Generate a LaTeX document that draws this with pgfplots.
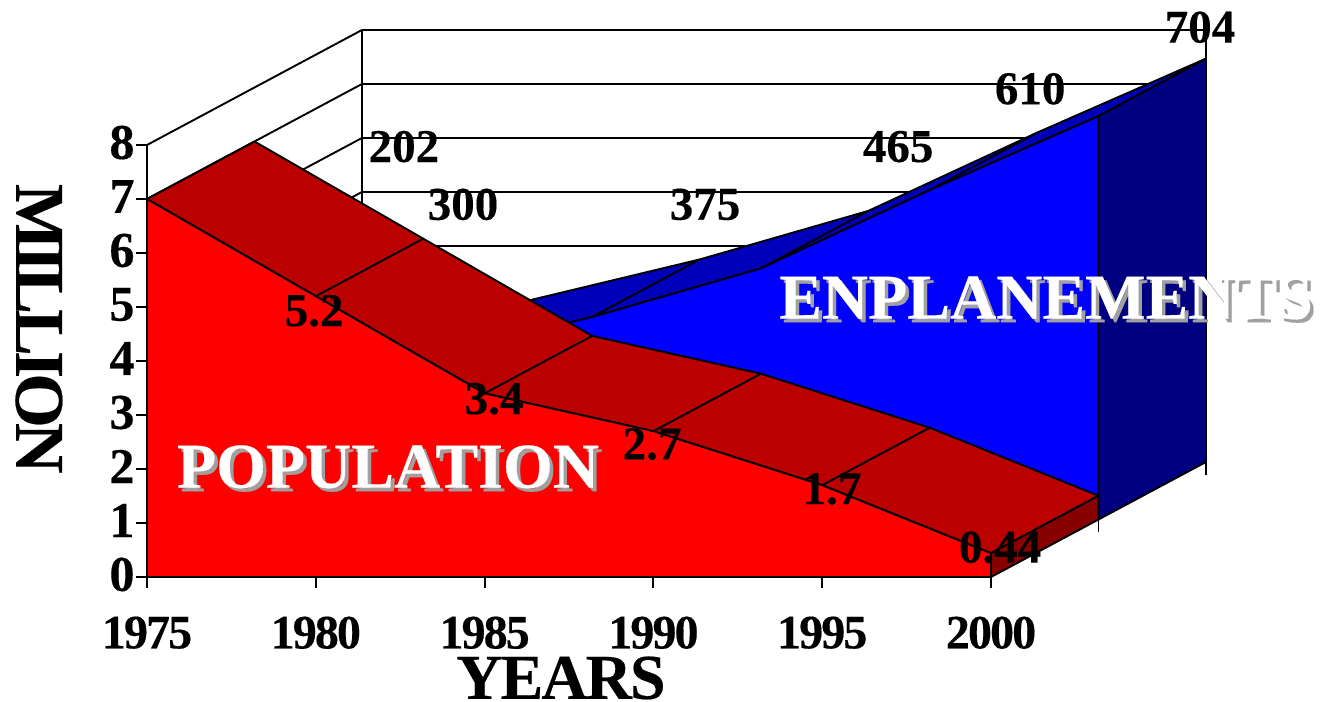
\documentclass[border=0pt]{standalone}
\usepackage{fontspec}
\setmainfont[BoldFeatures={FakeBold=0.3}]{Liberation Serif}
\newfontfamily\tightfont[LetterSpace=-3,BoldFeatures={FakeBold=0.3}]{Liberation Serif}
\newfontfamily\titlefont[LetterSpace=-7,BoldFeatures={FakeBold=0.3}]{Liberation Serif}
\newfontfamily\axisfont[LetterSpace=-4,BoldFeatures={FakeBold=0.3}]{Liberation Serif}
\usepackage{pgfplots}
\pgfplotsset{compat=1.18}
\definecolor{redtop}{HTML}{BB0000}
\definecolor{redside}{HTML}{880000}
\definecolor{bluetop}{HTML}{0000BB}
\definecolor{blueside}{HTML}{000080}
\definecolor{shade}{HTML}{A0A0A0}
\pgfplotsset{table/depth/.style={row sep=\\,
  x expr=\thisrow{yr}+\thisrow{d}*3.184,
  y expr=\thisrow{v}+\thisrow{d}*1.065}}
\newcommand{\seg}[6]{\addplot[black,line width=1.9pt] table[depth]{yr d v\\ #1 #2 #3\\ #4 #5 #6\\};}
\newcommand{\shadowtext}[3]{%
  \node[text=shade,font=\fontsize{#3}{#3}\selectfont\bfseries,xshift=3.5pt,yshift=-3.5pt] at (axis cs:#1) {#2};
  \node[text=white,font=\fontsize{#3}{#3}\selectfont\bfseries] at (axis cs:#1) {#2};}
\newcommand{\vlabel}[2]{\node[font=\fontsize{47}{47}\selectfont\bfseries] at (axis cs:#1) {#2};}
\begin{document}
\begin{tikzpicture}[line join=round]
\useasboundingbox (-147pt,-124pt) rectangle (1174pt,577pt);
\begin{axis}[
  at={(0pt,0pt)},anchor=south west,
  width=844pt,height=432pt,scale only axis,
  xmin=1975,xmax=2000,ymin=0,ymax=8,clip=false,
  axis x line=bottom,axis y line=left,
  axis line style={-,line width=2pt,black},
  tick style={black,line width=1.9pt},
  tick align=outside,
  xtick={1975,1980,1985,1990,1995,2000},
  ytick={0,1,2,3,4,5,6,7,8},
  major tick length=11pt,
  /pgf/number format/assume math mode=true,
  /pgf/number format/1000 sep={},
  xticklabel style={font=\fontsize{48}{48}\selectfont\bfseries\axisfont,yshift=-25pt},
  yticklabel style={font=\fontsize{50}{50}\selectfont\bfseries,xshift=2pt,yshift=2.5pt},
]
% back wall and left wall rules
\seg{1975}{2}{8}{2000}{2}{8}
\seg{1975}{2}{7}{2000}{2}{7}
\seg{1975}{2}{6}{2000}{2}{6}
\seg{1975}{2}{5}{2000}{2}{5}
\seg{1975}{2}{4}{2000}{2}{4}
\seg{1975}{0}{8}{1975}{2}{8}
\seg{1975}{0}{7}{1975}{2}{7}
\seg{1975}{0}{6}{1975}{2}{6}
\seg{1975}{0}{5}{1975}{2}{5}
\seg{1975}{2}{4}{1975}{2}{8}
\seg{2000}{2}{0}{2000}{2}{8}
% depth ticks
\seg{2000}{1}{0}{2000}{1}{-0.24}
\seg{2000}{2}{0}{2000}{2}{-0.24}
% enplanements: top surface
\addplot[fill=bluetop,draw=black,line width=1.9pt] table[depth]{yr d v\\
1975 1 2.02\\ 1980 1 3.00\\ 1985 1 3.75\\ 1990 1 4.65\\ 1995 1 6.10\\ 2000 1 7.47\\
2000 2 7.47\\ 1995 2 6.10\\ 1990 2 4.65\\ 1985 2 3.75\\ 1980 2 3.00\\ 1975 2 2.02\\ 1975 1 2.02\\};
\seg{1985}{1}{3.75}{1985}{2}{3.75}
\seg{1990}{1}{4.65}{1990}{2}{4.65}
\seg{1995}{1}{6.10}{1995}{2}{6.10}
% enplanements: front face
\addplot[fill=blue,draw=black,line width=1.9pt] table[depth]{yr d v\\
1975 1 2.02\\ 1980 1 3.00\\ 1985 1 3.75\\ 1990 1 4.65\\ 1995 1 6.10\\ 2000 1 7.47\\
2000 1 0\\ 1975 1 0\\ 1975 1 2.02\\};
% enplanements: side
\addplot[fill=blueside,draw=black,line width=1.9pt] table[depth]{yr d v\\
2000 1 7.47\\ 2000 2 7.47\\ 2000 2 0\\ 2000 1 0\\ 2000 1 7.47\\};
% population: top surface
\addplot[fill=redtop,draw=black,line width=1.9pt] table[depth]{yr d v\\
1975 0 7\\ 1980 0 5.2\\ 1985 0 3.4\\ 1990 0 2.7\\ 1995 0 1.7\\ 2000 0 0.44\\
2000 1 0.44\\ 1995 1 1.7\\ 1990 1 2.7\\ 1985 1 3.4\\ 1980 1 5.2\\ 1975 1 7\\ 1975 0 7\\};
\seg{1980}{0}{5.2}{1980}{1}{5.2}
\seg{1985}{0}{3.4}{1985}{1}{3.4}
\seg{1990}{0}{2.7}{1990}{1}{2.7}
\seg{1995}{0}{1.7}{1995}{1}{1.7}
% population: side
\addplot[fill=redside,draw=black,line width=1.9pt] table[depth]{yr d v\\
2000 0 0.44\\ 2000 1 0.44\\ 2000 1 0\\ 2000 0 0\\ 2000 0 0.44\\};
% population: front face
\addplot[fill=red,draw=black,line width=1.9pt] table[depth]{yr d v\\
1975 0 7\\ 1980 0 5.2\\ 1985 0 3.4\\ 1990 0 2.7\\ 1995 0 1.7\\ 2000 0 0.44\\
2000 0 0\\ 1975 0 0\\ 1975 0 7\\};
% value labels
\vlabel{1982.61,7.97}{202}
\vlabel{1984.36,6.90}{300}
\vlabel{1991.53,6.90}{375}
\vlabel{1997.25,7.97}{465}
\vlabel{2001.16,9.04}{610}
\vlabel{2006.19,10.18}{704}
\vlabel{1979.95,4.93}{5.2}
\vlabel{1985.28,3.30}{3.4}
\vlabel{1989.96,2.46}{2.7}
\vlabel{1995.29,1.63}{1.7}
\vlabel{2000.27,0.55}{0.44}
% series names
\shadowtext{1982.14,2.04}{POPULATION}{64}
\shadowtext{2001.63,5.17}{ENPLANEMENTS}{64}
% axis titles
\node[rotate=-90,font=\fontsize{70}{70}\selectfont\bfseries\titlefont] at (axis cs:1971.8,4.60) {MILLION};
\node[inner sep=0pt,font=\fontsize{64}{64}\selectfont\bfseries\tightfont] at (axis cs:1987.26,-1.87) {YEARS};
\end{axis}
\end{tikzpicture}
\end{document}
